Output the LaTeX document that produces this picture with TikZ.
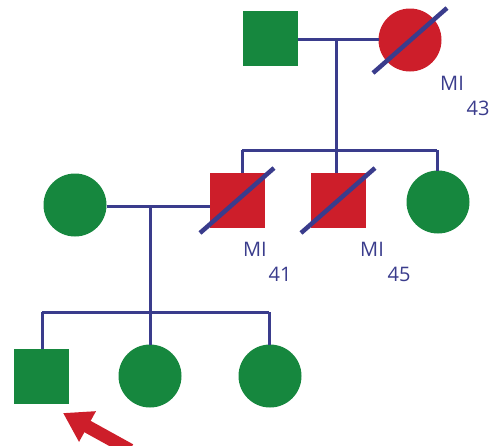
\documentclass[tikz,border=0pt]{standalone}
\usepackage{fontspec}
\setmainfont{Open Sans}
\usetikzlibrary{arrows.meta}
\definecolor{pgreen}{RGB}{22,135,62}
\definecolor{pred}{RGB}{205,30,42}
\definecolor{pblue}{RGB}{58,60,140}
\begin{document}
\begin{tikzpicture}[x=1pt, y=-1pt,
  every node/.style={inner sep=0pt, outer sep=0pt},
  male/.style={rectangle, minimum size=55pt, fill=pgreen},
  female/.style={circle, minimum size=63pt, fill=pgreen},
  affected/.style={fill=pred},
  link/.style={draw=pblue, line width=3pt},
  dead/.style={draw=pblue, line width=4.5pt},
  lbl/.style={text=pblue, font=\fontsize{20}{20}\selectfont}]
                \useasboundingbox (0,0) rectangle (492,445);
                % first generation
                \node[male] (gf) at (270,38) {};
                \node[female, affected] (gm) at (410,40) {};
                \coordinate (c1) at (336,39);
                % second generation
                \node[female] (m) at (75,205) {};
                \node[male, affected] (f) at (237,200) {};
                \node[male, affected] (u) at (338,200) {};
                \node[female] (a) at (438,202) {};
                \coordinate (b1l) at (242,150);
                \coordinate (b1m) at (336,150);
                \coordinate (b1r) at (437,150);
                \coordinate (c2) at (150,206);
                % third generation
                \node[male] (p) at (41,376) {};
                \node[female] (s1) at (150,376) {};
                \node[female] (s2) at (270,376) {};
                \coordinate (b2l) at (42,312);
                \coordinate (b2m) at (150,312);
                \coordinate (b2r) at (269,312);
                % lines
                \draw[link] (gf.east |- c1) -- (gm.west |- c1);
                \draw[link] (c1) -- (b1m);
                \draw[link] (b1l) -- (b1r);
                \draw[link] (b1l) -- (b1l |- f.north);
                \draw[link] (b1m) -- (b1m |- u.north);
                \draw[link] (b1r) -- (b1r |- a.north);
                \draw[link] (m.east |- c2) -- (f.west |- c2);
                \draw[link] (c2) -- (b2m);
                \draw[link] (b2l) -- (b2r);
                \draw[link] (b2l) -- (b2l |- p.north);
                \draw[link] (b2m) -- (s1);
                \draw[link] (b2r) -- (b2r |- s2.north);
                % deceased
                \draw[dead] ([shift={(-37,33)}]gm.center) -- ([shift={(37,-32)}]gm.center);
                \draw[dead] ([shift={(-37,33)}]f.center) -- ([shift={(37,-32)}]f.center);
                \draw[dead] ([shift={(-37,33)}]u.center) -- ([shift={(37,-32)}]u.center);
                % ages
                \node[lbl] (gmc) at (452,83) {MI};
                \node[lbl] (gma) at (478,108) {43};
                \node[lbl] (fc) at (255,249) {MI};
                \node[lbl] (fa) at (280,274) {41};
                \node[lbl] (uc) at (372,249) {MI};
                \node[lbl] (ua) at (399,274) {45};
                % proband
                \coordinate (tail) at (130,450);
                \coordinate (tip) at (63,413);
                \draw[pred, line width=13pt, -{Triangle[length=28pt, width=33pt]}] (tail) -- (tip);
                \end{tikzpicture}
\end{document}
